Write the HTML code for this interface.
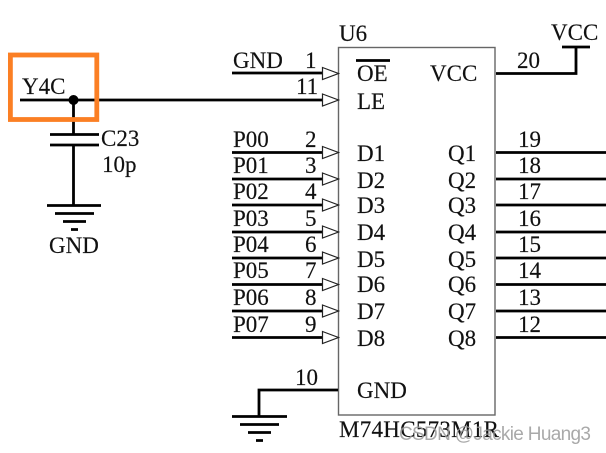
<!DOCTYPE html>
<html>
<head>
<meta charset="utf-8">
<style>
html,body{margin:0;padding:0;background:#fff;width:606px;height:453px;overflow:hidden}
svg{display:block}
text{font-family:"Liberation Serif",serif;font-size:23px;fill:#111;stroke:#111;stroke-width:.15px}
</style>
</head>
<body>
<svg width="606" height="453" viewBox="0 0 606 453" xmlns="http://www.w3.org/2000/svg">
<rect width="606" height="453" fill="#fff"/>
<!-- chip -->
<rect x="338.5" y="47.5" width="156.5" height="367.5" fill="none" stroke="#666" stroke-width="1.4"/>
<g stroke="#000" stroke-width="2.8" fill="none">
<!-- left pins -->
<path d="M232 73H322M20 100H322M232 152.500H322M232 179H322M232 205H322M232 232H322M232 258H322M232 284.500H322M232 311H322M232 337.500H322"/>
<!-- gnd pin -->
<path d="M338 390H259V416"/>
<path d="M232 416.500H287M240 424.500H279M248 432.500H271M256 440.500H263"/>
<!-- vcc -->
<path d="M496 73.500H576V47M562 47H590"/>
<!-- Q pins -->
<path d="M496 152.500H606M496 179H606M496 205H606M496 232H606M496 258H606M496 284.500H606M496 311H606M496 337.500H606"/>
<!-- cap -->
<path d="M73.500 100V134M50 134.500H99M50 145H99M73.500 145V205M47 205.500H101M55 213.500H94M63 221.500H86M71 229.500H78"/>
<!-- OE bar -->
<path d="M356 60.500H390"/>
</g>
<circle cx="73.500" cy="100" r="5" fill="#000"/>
<!-- arrows -->
<g fill="#fff" stroke="#222" stroke-width="1.200">
<path d="M322.500 67.500L338.500 73.500L322.500 79.500Z"/>
<path d="M322.500 94L338.500 100L322.500 106Z"/>
<path d="M322.500 146.500L338.500 152.500L322.500 158.500Z"/>
<path d="M322.500 173L338.500 179L322.500 185Z"/>
<path d="M322.500 199L338.500 205L322.500 211Z"/>
<path d="M322.500 226L338.500 232L322.500 238Z"/>
<path d="M322.500 252L338.500 258L322.500 264Z"/>
<path d="M322.500 278.500L338.500 284.500L322.500 290.500Z"/>
<path d="M322.500 305L338.500 311L322.500 317Z"/>
<path d="M322.500 331.500L338.500 337.500L322.500 343.500Z"/>
</g>
<!-- highlight -->
<rect x="10.400" y="55" width="86.400" height="64.500" fill="none" stroke="#fb7f24" stroke-width="4.800"/>
<!-- labels -->
<text x="22" y="94">Y4C</text>
<text x="101" y="146">C23</text>
<text x="102" y="172">10p</text>
<text x="49" y="253">GND</text>
<text x="339" y="41">U6</text>
<text x="551" y="40">VCC</text>
<text x="233" y="68">GND</text>
<text x="305" y="68">1</text>
<text x="296" y="94">11</text>
<text x="233" y="147">P00</text>
<text x="233" y="173">P01</text>
<text x="233" y="199">P02</text>
<text x="233" y="226">P03</text>
<text x="233" y="252">P04</text>
<text x="233" y="278">P05</text>
<text x="233" y="305">P06</text>
<text x="233" y="332">P07</text>
<text x="305" y="147">2</text>
<text x="305" y="173">3</text>
<text x="305" y="199">4</text>
<text x="305" y="226">5</text>
<text x="305" y="252">6</text>
<text x="305" y="278">7</text>
<text x="305" y="305">8</text>
<text x="305" y="332">9</text>
<text x="295" y="385">10</text>
<text x="517" y="68">20</text>
<text x="518" y="147">19</text>
<text x="518" y="173">18</text>
<text x="518" y="199">17</text>
<text x="518" y="226">16</text>
<text x="518" y="252">15</text>
<text x="518" y="278">14</text>
<text x="518" y="305">13</text>
<text x="518" y="332">12</text>
<text x="357" y="81">OE</text>
<text x="357" y="109">LE</text>
<text x="357" y="161">D1</text>
<text x="357" y="188">D2</text>
<text x="357" y="213">D3</text>
<text x="357" y="240">D4</text>
<text x="357" y="267">D5</text>
<text x="357" y="292">D6</text>
<text x="357" y="319">D7</text>
<text x="357" y="346">D8</text>
<text x="357" y="398">GND</text>
<text x="430" y="81">VCC</text>
<text x="448" y="161">Q1</text>
<text x="448" y="188">Q2</text>
<text x="448" y="213">Q3</text>
<text x="448" y="240">Q4</text>
<text x="448" y="267">Q5</text>
<text x="448" y="292">Q6</text>
<text x="448" y="319">Q7</text>
<text x="448" y="346">Q8</text>
<text x="339" y="437" textLength="160" lengthAdjust="spacing">M74HC573M1R</text>
<text x="399" y="440" style="font-family:'Liberation Sans',sans-serif;font-size:19px;fill:#9a9a9a;fill-opacity:.85;stroke:none" textLength="192">CSDN @Jackie Huang3</text>
</svg>
</body>
</html>
